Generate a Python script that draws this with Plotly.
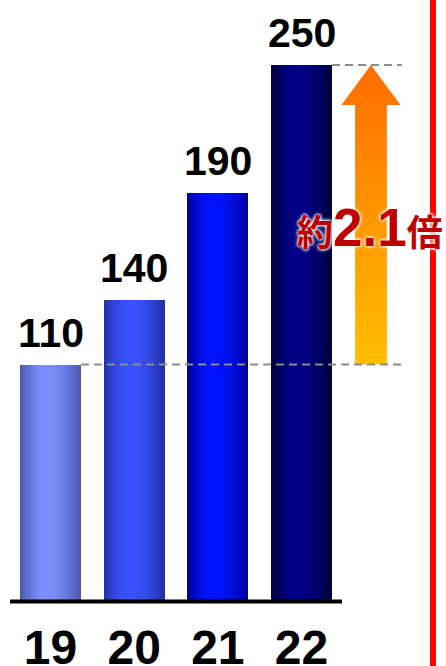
import plotly.graph_objects as go
import math

# ---- data ----
years = [19, 20, 21, 22]
year_labels = ["19", "20", "21", "22"]
values = [110, 140, 190, 250]

edge_colors = ["#4a58ac", "#2232a8", "#00009c", "#00003c"]
center_colors = ["#7b90ff", "#3a52ff", "#0014ff", "#000088"]

W = 0.73
N = 24
PEAK = 0.42

def hex2rgb(h):
    h = h.lstrip("#")
    return [int(h[i:i + 2], 16) for i in (0, 2, 4)]

def mix(a, b, f):
    ca, cb = hex2rgb(a), hex2rgb(b)
    return "rgb(%d,%d,%d)" % tuple(round(ca[i] + (cb[i] - ca[i]) * f) for i in range(3))

fig = go.Figure()
for k in range(N):
    t = k / N
    f = math.sin(t * math.pi / 2)
    fig.add_trace(go.Bar(
        x=years, y=values,
        width=W * (1 - t),
        offset=-W / 2 + t * PEAK * W,
        marker=dict(color=[mix(e, c, f) for e, c in zip(edge_colors, center_colors)],
                    line=dict(width=0)),
        hoverinfo="skip", showlegend=False,
    ))

# value labels
for x, v in zip(years, values):
    fig.add_annotation(x=x, y=v, text="<b>%d</b>" % v, showarrow=False,
                       yanchor="bottom", yshift=7,
                       font=dict(family="Liberation Sans, Arial", size=41, color="black"))

# growth arrow
x_min, x_max = 18.396, 23.727
arrow_x = 22.83
head_h = 40 / 2.14
head_w = 0.353
shaft_w = 0.19
lo, hi = values[0], values[-1]
ax = [arrow_x - shaft_w, arrow_x - shaft_w, arrow_x - head_w, arrow_x, arrow_x + head_w,
      arrow_x + shaft_w, arrow_x + shaft_w, arrow_x - shaft_w]
ay = [lo, hi - head_h, hi - head_h, hi, hi - head_h, hi - head_h, lo, lo]
fig.add_trace(go.Scatter(
    x=ax, y=ay, mode="lines", fill="toself", line=dict(width=0),
    fillgradient=dict(type="vertical", colorscale=[[0, "#ffbe00"], [1, "#ff6c00"]]),
    hoverinfo="skip", showlegend=False,
))

# dashed reference lines
for i in (0, len(values) - 1):
    fig.add_shape(type="line", xref="x", yref="y",
                  x0=years[i] + W / 2, x1=23.2, y0=values[i], y1=values[i],
                  line=dict(color="#8c8c8c", width=2, dash="8px,5px"))

# ratio label
fig.add_annotation(
    x=22.815, y=174, showarrow=False,
    text='<b><span style="font-size:36px">約</span>2.1<span style="font-size:36px">倍</span></b>',
    font=dict(family="Liberation Sans, Noto Sans CJK JP", size=53, color="#c00000",
              shadow="0 0 3px white, 0 0 3px white, 0 0 4px white"),
)

# baseline
fig.add_shape(type="line", xref="paper", yref="paper",
              x0=10 / 446, x1=342 / 446, y0=-1.5 / 600, y1=-1.5 / 600,
              line=dict(color="black", width=4))
# red vertical line
fig.add_shape(type="line", xref="paper", yref="paper",
              x0=433 / 446, x1=433 / 446, y0=-66 / 600, y1=1,
              line=dict(color="#ff0000", width=6))

fig.update_layout(
    width=446, height=666,
    margin=dict(l=0, r=0, t=0, b=66, autoexpand=False),
    barmode="overlay", bargap=0,
    plot_bgcolor="white", paper_bgcolor="white",
    xaxis=dict(range=[x_min, x_max], tickvals=years, ticktext=year_labels,
               showgrid=False, zeroline=False, showline=False, automargin=False,
               ticks="outside", ticklen=5, tickcolor="rgba(0,0,0,0)",
               tickfont=dict(family="Liberation Sans, Arial", size=48, color="black", weight="bold")),
    yaxis=dict(range=[0, 600 / 2.14], showgrid=False, zeroline=False, automargin=False,
               showticklabels=False, showline=False),
)

fig.write_html(
    "out.html", config={"displayModeBar": False},
    post_script=("document.body.style.margin='0';"
                 "document.body.style.overflow='hidden';"
                 "document.documentElement.style.overflow='hidden';"),
)
